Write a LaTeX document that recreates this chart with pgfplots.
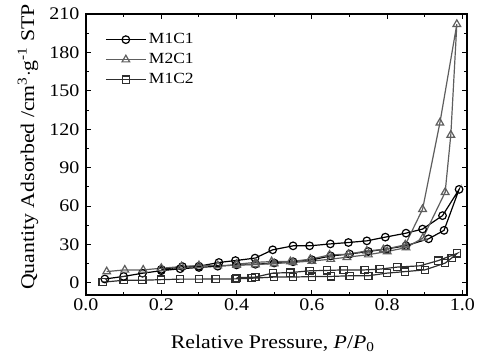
\documentclass[border=0pt]{standalone}
\usepackage{fontspec}
\setmainfont{Liberation Serif}[FakeStretch=1.13]
\usepackage{pgfplots}
\pgfplotsset{compat=1.18}
\definecolor{cA}{HTML}{000000}
\definecolor{cB}{HTML}{5E5E5E}
\definecolor{cC}{HTML}{2E2E2E}
\begin{document}
\begin{tikzpicture}
\begin{axis}[
  scale only axis,
  width=381pt, height=281pt,
  xmin=0, xmax=1.012, ymin=-9.5, ymax=210,
  xtick={0,0.2,0.4,0.6,0.8,1.0},
  ytick={0,30,60,90,120,150,180,210},
  minor x tick num=1, minor y tick num=1,
  tick align=inside,
  major tick length=5pt, minor tick length=3pt,
  tick style={line width=1pt, black},
  axis line style={line width=1.8pt},
  xticklabel style={/pgf/number format/.cd, fixed, fixed zerofill, precision=1},
  yticklabel style={xshift=-3pt},
  /pgf/number format/assume math mode=true,
  tick label style={font=\fontsize{17.7}{20}\selectfont},
  label style={font=\fontsize{19.3}{22}\selectfont},
  xlabel={Relative Pressure, \textit{P}/\textit{P}\textsubscript{0}},
  ylabel={Quantity Adsorbed /cm\textsuperscript{3}$\cdot$g\textsuperscript{-1} STP},
  xlabel style={at={(axis description cs:0.49,0)}, anchor=base, yshift=-53pt},
  ylabel style={at={(axis description cs:0,0.527)}, anchor=center, yshift=58pt},
  legend style={draw=none, fill=none, at={(0.05,0.945)}, anchor=north west,
    inner xsep=0pt, inner ysep=0pt,
    nodes={text height=10pt, text depth=3pt, inner ysep=3.5pt, inner xsep=2.5pt},
    font=\fontsize{15.5}{18}\selectfont},
  legend cell align=left,
  legend image code/.code={\draw[mark repeat=2,mark phase=2] plot coordinates {(0pt,0pt)(20pt,0pt)(40pt,0pt)};},
  every axis plot/.append style={line width=1.2pt},
]
\addplot[color=cA, mark=o, mark size=3.8pt, mark options={fill=white, line width=1.2pt}] coordinates {
(0.05,3) (0.10,5) (0.15,7.5) (0.20,9.5) (0.25,11) (0.30,12) (0.35,13) (0.40,14) (0.45,14.5)
(0.50,15.5) (0.55,16.5) (0.60,18) (0.65,21) (0.70,22.5) (0.75,24.5) (0.80,26.5) (0.85,29)
(0.91,34.4) (0.951,41) (0.991,73)
(0.947,52.5) (0.894,42) (0.85,38.8) (0.795,35.7) (0.746,32.8) (0.697,31.5) (0.649,30.4)
(0.594,28.9) (0.55,28.9) (0.496,25.8) (0.449,19.3) (0.397,17.4) (0.353,15.9) (0.30,13) (0.256,12.7) (0.20,10.5)
};
\addlegendentry{M1C1}
\addplot[color=cB, mark=triangle, mark size=4.4pt, mark options={fill=white, line width=1.2pt}] coordinates {
(0.055,8.8) (0.103,10.1) (0.152,10.1) (0.20,11.4) (0.254,12.7) (0.30,13.5) (0.35,13.5) (0.40,13.8)
(0.45,14.3) (0.50,15) (0.55,16) (0.60,17) (0.65,18.5) (0.693,20) (0.75,22) (0.80,24.5) (0.85,27.5)
(0.895,35) (0.954,70.8) (0.969,115.5) (0.985,202)
(0.94,125) (0.894,57.5) (0.848,29.7) (0.79,26) (0.746,25) (0.697,22.4) (0.647,21.8) (0.596,18.5)
(0.543,16.6) (0.493,16.6) (0.45,16) (0.40,14.5)
};
\addlegendentry{M2C1}
\addplot[color=cC, mark=square, mark size=3.6pt, mark options={fill=white, line width=1.2pt}] coordinates {
(0.044,0.5) (0.10,2) (0.15,2) (0.20,2.5) (0.25,2.9) (0.30,2.9) (0.344,3) (0.397,3.1) (0.44,3.6)
(0.50,4.5) (0.55,4.5) (0.60,4.9) (0.65,5) (0.70,5.5) (0.75,5.5) (0.80,7.6) (0.848,8.8)
(0.90,10.1) (0.954,15.4) (0.971,19.3) (0.986,23)
(0.936,17.4) (0.887,13.3) (0.827,12.3) (0.78,10.7) (0.74,10.1) (0.684,10.1) (0.64,9.7) (0.594,9.4)
(0.543,8) (0.496,7.6) (0.45,4.5) (0.40,4)
};
\addlegendentry{M1C2}
\coordinate (sw) at (rel axis cs:0,0);
\end{axis}
\pgfresetboundingbox
\path (sw) ++(-86pt,-67pt) rectangle ++(480pt,362pt);
\end{tikzpicture}
\end{document}
